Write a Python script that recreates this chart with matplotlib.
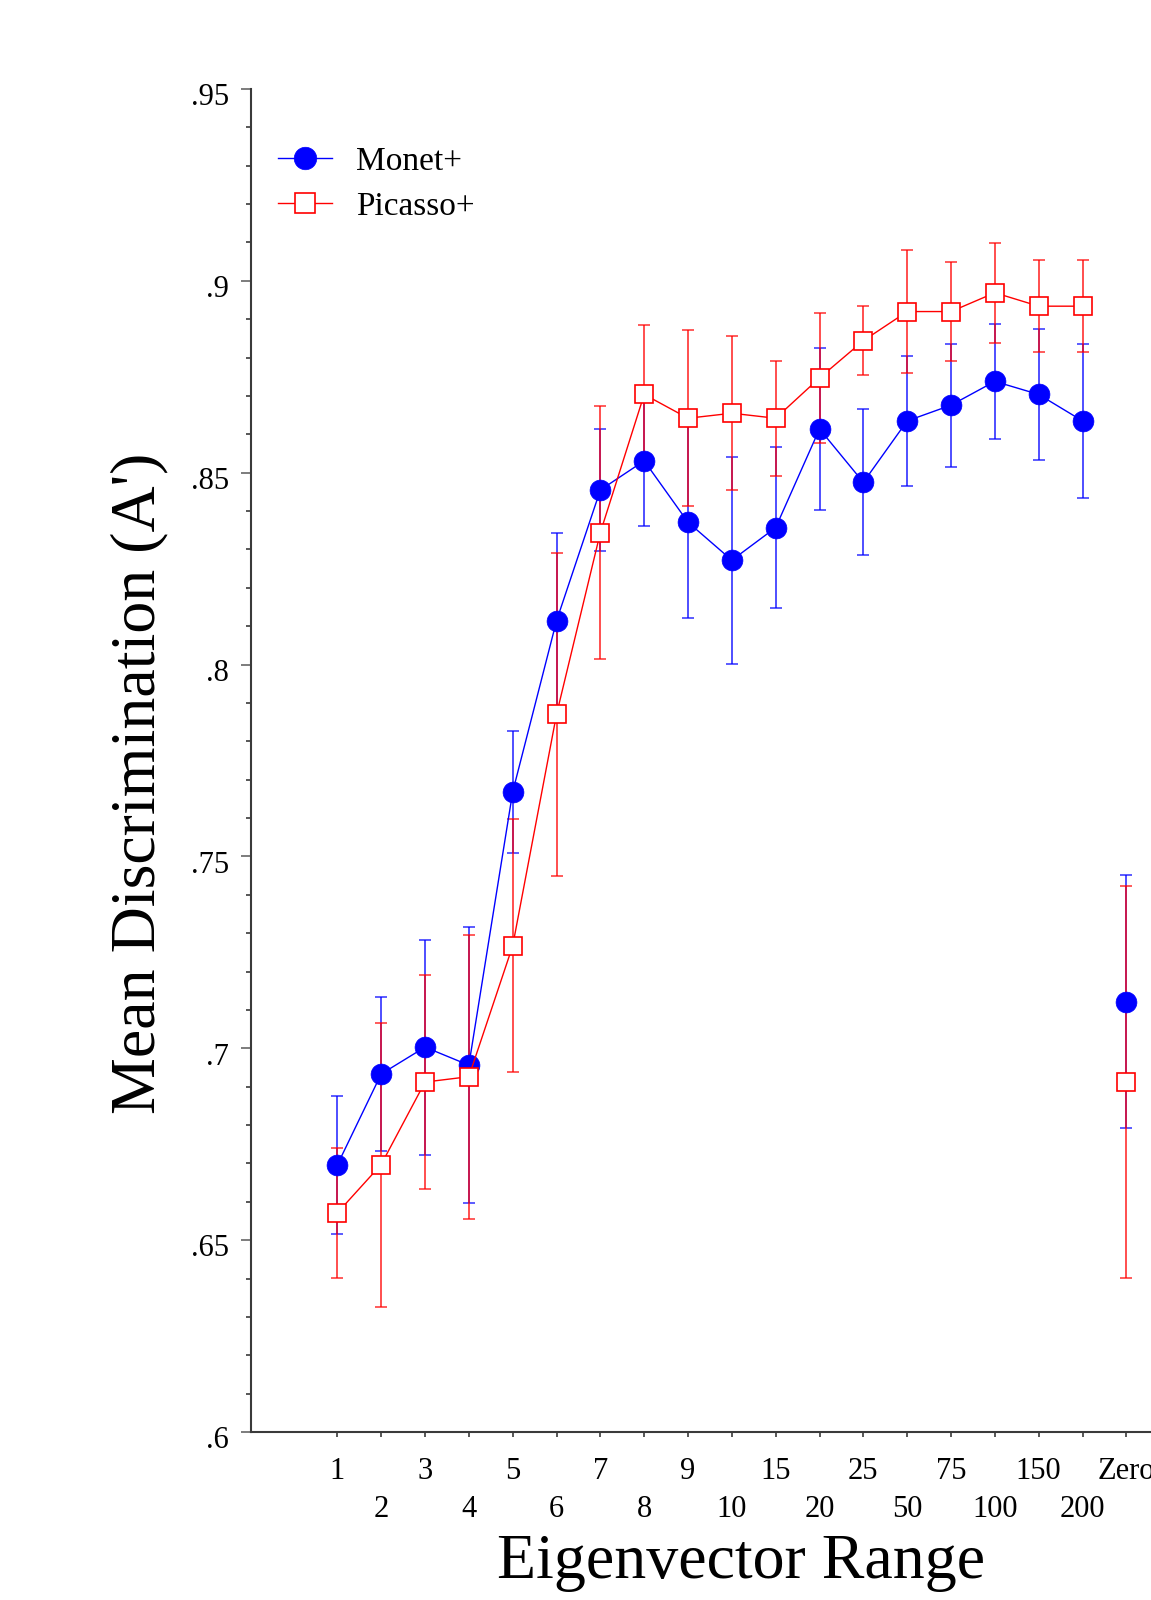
import matplotlib
matplotlib.use("Agg")
import matplotlib.pyplot as plt
from matplotlib.ticker import FixedLocator, MultipleLocator, FixedFormatter
from matplotlib.transforms import ScaledTranslation

plt.rcParams['font.family'] = ['Liberation Serif', 'DejaVu Serif']

categories = ['1', '2', '3', '4', '5', '6', '7', '8', '9', '10', '15', '20',
              '25', '50', '75', '100', '150', '200', 'Zero']
monet = [0.6696, 0.6933, 0.7003, 0.6956, 0.7668, 0.8114, 0.8455, 0.8531, 0.8371,
         0.8272, 0.8357, 0.8614, 0.8475, 0.8635, 0.8676, 0.8738, 0.8704, 0.8635, 0.7121]
monet_err = [0.018, 0.020, 0.028, 0.036, 0.016, 0.023, 0.016, 0.017, 0.025,
             0.027, 0.021, 0.021, 0.019, 0.017, 0.016, 0.015, 0.017, 0.020, 0.033]
picasso = [0.6571, 0.6697, 0.6912, 0.6926, 0.7267, 0.7870, 0.8344, 0.8704, 0.8642,
           0.8655, 0.8642, 0.8747, 0.8844, 0.8920, 0.8920, 0.8969, 0.8934, 0.8934, 0.6912]
picasso_err = [0.017, 0.037, 0.028, 0.037, 0.033, 0.042, 0.033, 0.018, 0.023,
               0.020, 0.015, 0.017, 0.009, 0.016, 0.013, 0.013, 0.012, 0.012, 0.051]
y_ticks = [0.6, 0.65, 0.7, 0.75, 0.8, 0.85, 0.9, 0.95]
y_tick_labels = ['.6', '.65', '.7', '.75', '.8', '.85', '.9', '.95']

W, H = 1151, 1600
fig = plt.figure(figsize=(W / 100, H / 100), dpi=100)
ax = fig.add_axes([251 / W, 168 / H, 963 / W, 1343 / H])

x = list(range(len(categories)))
n_line = len(categories) - 1  # 'Zero' is not connected

BLUE = '#0000ff'
RED = '#ff0000'

# error bars
ax.errorbar(x, monet, yerr=monet_err, fmt='none', ecolor=BLUE, elinewidth=1.3,
            capsize=4, capthick=1.2, alpha=0.75, zorder=2)
ax.errorbar(x, picasso, yerr=picasso_err, fmt='none', ecolor=RED, elinewidth=1.3,
            capsize=4, capthick=1.2, alpha=0.75, zorder=2)

# lines + markers
ax.plot(x[:n_line], monet[:n_line], color=BLUE, lw=1.0, marker='o', ms=15,
        mfc=BLUE, mec=BLUE, mew=0.5, label='Monet+', zorder=3)
ax.plot(x[n_line:], monet[n_line:], ls='none', marker='o', ms=15,
        mfc=BLUE, mec=BLUE, mew=0.5, zorder=3)
ax.plot(x[:n_line], picasso[:n_line], color=RED, lw=1.0, marker='s', ms=12.7,
        mfc='white', mec=RED, mew=1.2, label='Picasso+', zorder=4)
ax.plot(x[n_line:], picasso[n_line:], ls='none', marker='s', ms=12.7,
        mfc='white', mec=RED, mew=1.2, zorder=4)

ax.set_xlim(-1.97, 20)
ax.set_ylim(0.6, 0.95)

for s in ['top', 'right']:
    ax.spines[s].set_visible(False)
for s in ['left', 'bottom']:
    ax.spines[s].set_color('#3a3a3a')
    ax.spines[s].set_linewidth(1.5)

# y ticks
ax.yaxis.set_major_locator(FixedLocator(y_ticks))
ax.yaxis.set_major_formatter(FixedFormatter(y_tick_labels))
ax.yaxis.set_minor_locator(MultipleLocator(0.01))
ax.tick_params(axis='y', which='major', length=7.2, width=1.2, color='#666666',
               labelsize=22, pad=8.6, direction='out')
ax.tick_params(axis='y', which='minor', length=3.6, width=1.2, color='#3a3a3a',
               direction='out')
for lab in ax.get_yticklabels():
    lab.set_transform(lab.get_transform() + ScaledTranslation(0, -3.8 / 72, fig.dpi_scale_trans))

# x ticks: odd-positioned labels on row 1 (major), even on row 2 (minor)
major_pos = x[0::2]
minor_pos = x[1::2]
ax.xaxis.set_major_locator(FixedLocator(major_pos))
ax.xaxis.set_major_formatter(FixedFormatter(categories[0::2]))
ax.xaxis.set_minor_locator(FixedLocator(minor_pos))
ax.xaxis.set_minor_formatter(FixedFormatter(categories[1::2]))
ax.tick_params(axis='x', which='major', length=3.6, width=1.2, color='#3a3a3a',
               labelsize=22, pad=14.5, direction='out')
ax.tick_params(axis='x', which='minor', length=3.6, width=1.2, color='#3a3a3a',
               labelsize=22, pad=41.5, direction='out')

ax.set_ylabel("Mean Discrimination (A')", fontsize=46)
ax.yaxis.set_label_coords((168 - 251) / 963, (1432 - 783) / 1343)
ax.set_xlabel("Eigenvector Range", fontsize=46)
ax.xaxis.label.set_va('baseline')
ax.xaxis.set_label_coords((741.5 - 251) / 963, (1432 - 1578) / 1343)

leg = ax.legend(loc='upper left', bbox_to_anchor=((278 - 251) / 963, (1432 - 146) / 1343),
                frameon=False, fontsize=24, handlelength=1.62, handletextpad=0.72,
                labelspacing=0.45, borderpad=0, borderaxespad=0, markerscale=1.08)

fig.savefig('out.png', dpi=100)
